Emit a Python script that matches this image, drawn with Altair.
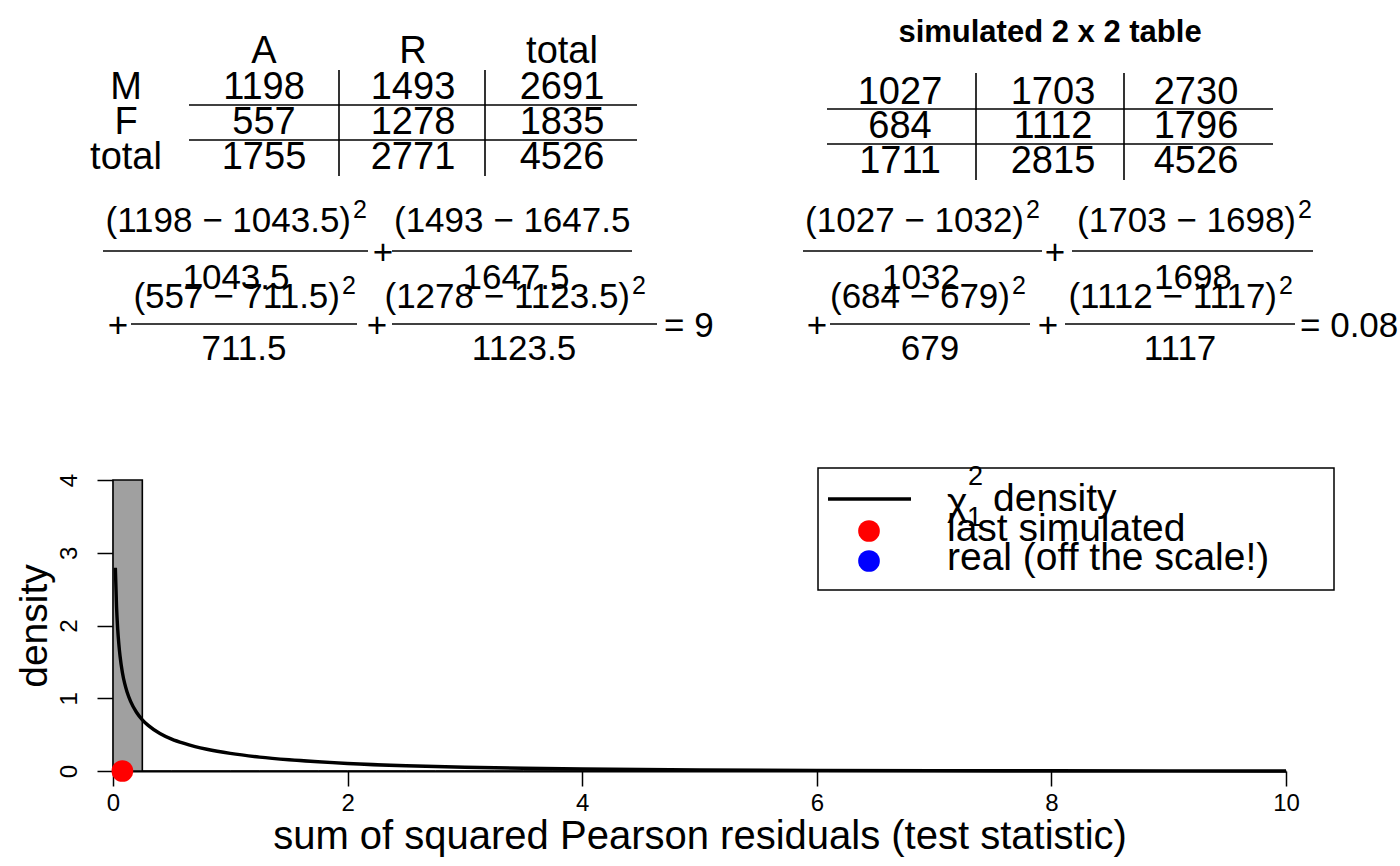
import altair as alt
import pandas as pd

FONT = "Liberation Sans"

# ------------------------------------------------------------------ data
col_labels = ["A", "R", "total"]
row_labels = ["M", "F", "total"]
observed = [[1198, 1493], [557, 1278]]
expected = [[1043.5, 1647.5], [711.5, 1123.5]]

sim_title = "simulated 2 x 2 table"
simulated = [[1027, 1703], [684, 1112]]
sim_expected = [[1032, 1698], [679, 1117]]
sim_stat_label = "0.08"
real_stat_label = "9"          # clipped in the original figure

bin_width = 0.25
hist_bin_start = [i * bin_width for i in range(40)]
hist_density = [4.0] + [0.0] * 39

chi_x = [0.02, 0.03, 0.04, 0.05, 0.06, 0.08, 0.1, 0.12, 0.15, 0.2, 0.25, 0.3, 0.4,
         0.5, 0.6, 0.7, 0.8, 1.0, 1.25, 1.5, 2.0, 2.5, 3.0, 3.5, 4.0, 5.0, 6.0,
         7.0, 8.0, 9.0, 10.0]
chi_y = [2.793, 2.269, 1.955, 1.740, 1.581, 1.355, 1.200, 1.085, 0.956, 0.807,
         0.704, 0.627, 0.516, 0.439, 0.382, 0.336, 0.299, 0.242, 0.191, 0.154,
         0.104, 0.072, 0.051, 0.037, 0.027, 0.0146, 0.0081, 0.0046, 0.0026,
         0.0015, 0.0009]

last_sim_stat = [0.08]
last_sim_y = [0.0]

legend_labels = ["density", "last simulated", "real (off the scale!)"]
legend_colors = ["red", "blue"]

x_title = "sum of squared Pearson residuals (test statistic)"
y_title = "density"

# ------------------------------------------------------------------ layout (page pixels)
PAGE_W, PAGE_H = 1400, 866
PL, PT = 113, 480            # plot origin on the page
PW, PH = 1173, 291           # plot size

MINUS = " \u2212 "


def fmt(v):
    return f"{v:g}"


def full_table(t):
    r = [row + [sum(row)] for row in t]
    r.append([sum(c) for c in zip(*r)])
    return r


texts = []   # text, x, y, size, align, weight
rules = []   # x1, x2, y1, y2, width

TS = 38
# left observed table
obs_full = full_table(observed)
L_COLS = [264, 413, 562]
L_ROWS = [88, 123, 158]
for j, lab in enumerate(col_labels):
    texts.append((lab, L_COLS[j], 52, TS, "center", "normal"))
for i, lab in enumerate(row_labels):
    texts.append((lab, 126, L_ROWS[i], TS, "center", "normal"))
for i in range(3):
    for j in range(3):
        texts.append((str(obs_full[i][j]), L_COLS[j], L_ROWS[i], TS, "center", "normal"))
for yy in [105, 140]:
    rules.append((189, 637, yy, yy, 1.6))
for xx in [339, 485]:
    rules.append((xx, xx, 70, 176, 1.6))

# right simulated table
sim_full = full_table(simulated)
R_COLS = [900, 1053, 1196]
R_ROWS = [93, 127, 162]
texts.append((sim_title, 1050, 33, 31, "center", "bold"))
for i in range(3):
    for j in range(3):
        texts.append((str(sim_full[i][j]), R_COLS[j], R_ROWS[i], TS, "center", "normal"))
for yy in [109, 144]:
    rules.append((827, 1273, yy, yy, 1.6))
for xx in [976, 1124]:
    rules.append((xx, xx, 73, 180, 1.6))

# formulas: line x0, x1, line y, numerator right end, numerator y, denominator x, denominator y
FS = 35
SUP = 25


def add_formula(obs, exp, fracs, pluses, eq_text, eq_x, clip_second=False):
    cells = [(0, 0), (0, 1), (1, 0), (1, 1)]
    for k, (i, j) in enumerate(cells):
        x0, x1, ly, nend, ny, dx, dy = fracs[k]
        num = "(" + fmt(obs[i][j]) + MINUS + fmt(exp[i][j]) + ")"
        rules.append((x0, x1, ly, ly, 1.6))
        if clip_second and k == 1:
            texts.append((num[:-1], x0 + 2, ny, FS, "left", "normal"))
        else:
            texts.append((num, nend, ny, FS, "right", "normal"))
            texts.append(("2", nend + 2, ny - 11, SUP, "left", "normal"))
        texts.append((fmt(exp[i][j]), dx, dy, FS, "center", "normal"))
    for (px, py) in pluses:
        texts.append(("+", px, py, FS, "center", "normal"))
    texts.append(("= " + eq_text, eq_x, 326, FS, "left", "normal"))


add_formula(observed, expected,
            [(103, 368, 251, 351, 221, 236, 278),
             (392, 632, 251, 0, 221, 516, 278),
             (131, 357, 324, 340, 297, 244, 349),
             (392, 657, 324, 630, 297, 524, 349)],
            [(383, 253), (118, 326), (377, 326)],
            real_stat_label, 664, clip_second=True)

add_formula(simulated, sim_expected,
            [(803, 1042, 251, 1024, 221, 921, 278),
             (1072, 1313, 251, 1296, 221, 1193, 278),
             (830, 1030, 324, 1010, 297, 930, 349),
             (1065, 1295, 324, 1277, 297, 1180, 349)],
            [(1055, 253), (817, 326), (1048, 326)],
            sim_stat_label, 1300)

# legend
LS = 39
LEG_BOX = (818, 1334, 468, 590)
texts.append(("\u03c7", 947, 503, LS, "left", "normal"))
texts.append(("2", 968, 477, 27, "left", "normal"))
texts.append(("1", 967, 518, 27, "left", "normal"))
texts.append((legend_labels[0], 993, 499, LS, "left", "normal"))
texts.append((legend_labels[1], 947, 529, LS, "left", "normal"))
texts.append((legend_labels[2], 947, 558, LS, "left", "normal"))
leg_line = (828, 911, 499, 499, 3.5)
leg_dots = pd.DataFrame({"x": [869, 869], "y": [531, 561], "c": legend_colors})

# ------------------------------------------------------------------ frames
tdf = pd.DataFrame(texts, columns=["t", "x", "y", "s", "align", "w"])
tdf["x"] = tdf["x"] - PL
tdf["y"] = tdf["y"] - PT
rdf = pd.DataFrame(rules + [leg_line], columns=["x1", "x2", "y1", "y2", "sw"])
for c in ["x1", "x2"]:
    rdf[c] = rdf[c] - PL
for c in ["y1", "y2"]:
    rdf[c] = rdf[c] - PT
leg_dots["x"] = leg_dots["x"] - PL
leg_dots["y"] = leg_dots["y"] - PT
box_df = pd.DataFrame({"x1": [LEG_BOX[0] - PL], "x2": [LEG_BOX[1] - PL],
                       "y1": [LEG_BOX[2] - PT], "y2": [LEG_BOX[3] - PT]})

hist_df = pd.DataFrame({"x0": hist_bin_start,
                        "x1": [b + bin_width for b in hist_bin_start],
                        "d": hist_density,
                        "z": [0.0] * len(hist_bin_start)})
chi_df = pd.DataFrame({"x": chi_x, "y": chi_y})
pt_df = pd.DataFrame({"x": last_sim_stat, "y": last_sim_y})

xs = alt.Scale(domain=[0, 10], nice=False, zero=False)
ys = alt.Scale(domain=[0, 4], nice=False)

x_axis = alt.Axis(values=[0, 2, 4, 6, 8, 10], title=x_title, grid=False,
                  domainColor="black", domainWidth=2, tickColor="black",
                  tickWidth=1.5, tickSize=15, labelFontSize=24, labelPadding=5,
                  labelColor="black", labelFont=FONT, labelFlush=False,
                  titleFont=FONT, titleFontSize=40, titleFontWeight="normal",
                  titleColor="black", titlePadding=1, format="d")
y_axis = alt.Axis(values=[0, 1, 2, 3, 4], title=y_title, grid=False,
                  domainColor="black", domainWidth=1.5, tickColor="black",
                  tickWidth=1.5, tickSize=16, labelFontSize=24, labelPadding=21,
                  labelAngle=-90, labelAlign="center", labelBaseline="alphabetic",
                  labelColor="black", labelFont=FONT, labelFlush=False,
                  titleFont=FONT, titleFontSize=39, titleFontWeight="normal",
                  titleColor="black", titlePadding=3, format="d")

bars = alt.Chart(hist_df).mark_rect(fill="#A0A0A0", stroke="black", strokeWidth=1.6).encode(
    x=alt.X("x0:Q", scale=xs, axis=x_axis),
    x2="x1:Q",
    y=alt.Y("d:Q", scale=ys, axis=y_axis),
    y2="z:Q",
)
curve = alt.Chart(chi_df).mark_line(color="black", strokeWidth=3.4, interpolate="monotone").encode(
    x=alt.X("x:Q", scale=xs, axis=None),
    y=alt.Y("y:Q", scale=ys, axis=None),
)
point = alt.Chart(pt_df).mark_circle(color="red", opacity=1, size=470).encode(
    x=alt.X("x:Q", scale=xs, axis=None),
    y=alt.Y("y:Q", scale=ys, axis=None),
)

box = alt.Chart(box_df).mark_rect(fill="white", stroke="black", strokeWidth=1.5).encode(
    x=alt.X("x1:Q", scale=None, axis=None), x2="x2:Q",
    y=alt.Y("y1:Q", scale=None, axis=None), y2="y2:Q",
)
rule_layer = alt.Chart(rdf).mark_rule(color="black").encode(
    x=alt.X("x1:Q", scale=None, axis=None), x2="x2:Q",
    y=alt.Y("y1:Q", scale=None, axis=None), y2="y2:Q",
    strokeWidth=alt.StrokeWidth("sw:Q", scale=None, legend=None),
)
dots = alt.Chart(leg_dots).mark_circle(opacity=1, size=470).encode(
    x=alt.X("x:Q", scale=None, axis=None),
    y=alt.Y("y:Q", scale=None, axis=None),
    color=alt.Color("c:N", scale=None, legend=None),
)

text_layers = []
for al in ["left", "center", "right"]:
    for wt in ["normal", "bold"]:
        sub = tdf[(tdf["align"] == al) & (tdf["w"] == wt)]
        if len(sub) == 0:
            continue
        text_layers.append(
            alt.Chart(sub).mark_text(align=al, baseline="middle", font=FONT,
                                     fontWeight=wt, color="black").encode(
                x=alt.X("x:Q", scale=None, axis=None),
                y=alt.Y("y:Q", scale=None, axis=None),
                text="t:N",
                size=alt.Size("s:Q", scale=None, legend=None),
            )
        )

chart = alt.layer(bars, curve, point, box, rule_layer, dots, *text_layers).resolve_scale(
    x="independent", y="independent"
).properties(
    width=PW, height=PH,
    padding={"left": PL, "top": PT, "right": PAGE_W - PL - PW, "bottom": PAGE_H - PT - PH},
    autosize=alt.AutoSizeParams(type="none"),
    background="white",
).configure_view(stroke=None)

chart.save("out.html", embed_options={"renderer": "svg", "actions": False})
